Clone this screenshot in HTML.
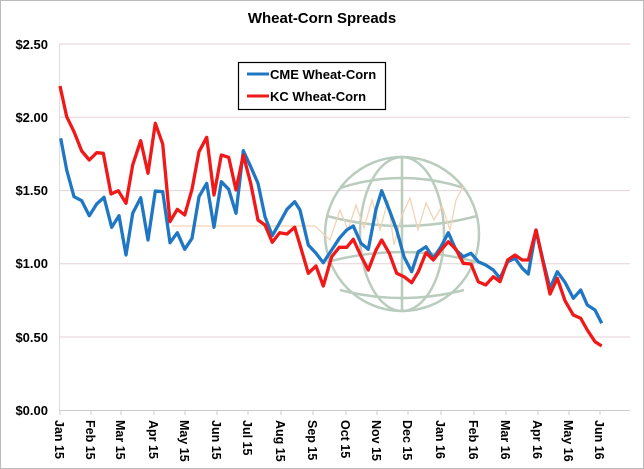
<!DOCTYPE html>
<html><head><style>
html,body{margin:0;padding:0;background:#fff;}
svg{display:block;font-family:"Liberation Sans",Arial,sans-serif;}
</style></head><body>
<svg width="644" height="469" viewBox="0 0 644 469" xmlns="http://www.w3.org/2000/svg">
<rect x="0.5" y="0.5" width="643" height="468" fill="#fff" stroke="#bbb"/>
<text x="322" y="23" text-anchor="middle" font-size="15" font-weight="bold" fill="#000">Wheat-Corn Spreads</text>
<g stroke="#e6d2d6" stroke-width="1">
<line x1="59" y1="44" x2="630" y2="44"/>
<line x1="59" y1="117.2" x2="630" y2="117.2"/>
<line x1="59" y1="190.6" x2="630" y2="190.6"/>
<line x1="59" y1="263.8" x2="630" y2="263.8"/>
<line x1="59" y1="337" x2="630" y2="337"/>
</g>
<line x1="59" y1="410.5" x2="630" y2="410.5" stroke="#ccc"/>
<line x1="59.5" y1="44" x2="59.5" y2="410" stroke="#ddd"/>
<g stroke="#ccc">
<line x1="60" y1="410" x2="60" y2="415"/><line x1="91" y1="410" x2="91" y2="415"/><line x1="121" y1="410" x2="121" y2="415"/><line x1="154" y1="410" x2="154" y2="415"/><line x1="185" y1="410" x2="185" y2="415"/><line x1="217" y1="410" x2="217" y2="415"/><line x1="248" y1="410" x2="248" y2="415"/><line x1="281" y1="410" x2="281" y2="415"/><line x1="313" y1="410" x2="313" y2="415"/><line x1="346" y1="410" x2="346" y2="415"/><line x1="377" y1="410" x2="377" y2="415"/><line x1="408" y1="410" x2="408" y2="415"/><line x1="441" y1="410" x2="441" y2="415"/><line x1="474" y1="410" x2="474" y2="415"/><line x1="506" y1="410" x2="506" y2="415"/><line x1="538" y1="410" x2="538" y2="415"/><line x1="569" y1="410" x2="569" y2="415"/><line x1="600" y1="410" x2="600" y2="415"/>
</g>
<g font-size="13" font-weight="bold" text-anchor="end" fill="#000">
<text x="48" y="49">$2.50</text><text x="48" y="122">$2.00</text><text x="48" y="195">$1.50</text><text x="48" y="268">$1.00</text><text x="48" y="342">$0.50</text><text x="48" y="415">$0.00</text>
</g>
<g font-size="12.5" font-weight="bold" fill="#000">
<text transform="translate(55,420) rotate(90)">Jan 15</text>
<text transform="translate(86,420) rotate(90)">Feb 15</text>
<text transform="translate(116,420) rotate(90)">Mar 15</text>
<text transform="translate(149,420) rotate(90)">Apr 15</text>
<text transform="translate(180,420) rotate(90)">May 15</text>
<text transform="translate(212,420) rotate(90)">Jun 15</text>
<text transform="translate(243,420) rotate(90)">Jul 15</text>
<text transform="translate(276,420) rotate(90)">Aug 15</text>
<text transform="translate(308,420) rotate(90)">Sep 15</text>
<text transform="translate(341,420) rotate(90)">Oct 15</text>
<text transform="translate(372,420) rotate(90)">Nov 15</text>
<text transform="translate(403,420) rotate(90)">Dec 15</text>
<text transform="translate(436,420) rotate(90)">Jan 16</text>
<text transform="translate(469,420) rotate(90)">Feb 16</text>
<text transform="translate(501,420) rotate(90)">Mar 16</text>
<text transform="translate(533,420) rotate(90)">Apr 16</text>
<text transform="translate(564,420) rotate(90)">May 16</text>
<text transform="translate(595,420) rotate(90)">Jun 16</text>
</g>
<!-- watermark -->
<g fill="none" stroke="#b9ccbe" stroke-width="2.5">
<circle cx="402" cy="234" r="77"/>
<ellipse cx="402" cy="234" rx="42" ry="77"/>
<line x1="402" y1="157" x2="402" y2="311"/>
<path d="M340 188 Q402 168 464 188"/>
<path d="M327 216 Q402 236 477 216"/>
<path d="M327 262 Q402 242 477 262"/>
<path d="M340 290 Q402 306 464 290"/>
</g>
<polyline fill="none" stroke="#f3d3b5" stroke-width="1.3" points="172,226 300,226 315,226 330,240 340,210 348,230 356,205 364,228 372,200 380,230 388,200 394,245 402,215 410,198 418,230 426,203 434,220 442,206 450,230 456,200 464,185"/>
<!-- series -->
<polyline fill="none" stroke="#1f77c4" stroke-width="3.3" stroke-linejoin="round" points="60.7,138.3 66.7,170 74,196.7 81.7,200.7 89.3,215.7 96.7,204 104,197.3 111.7,227.3 119,215.7 126,255 132.7,213.3 140.7,197.7 148,240 155.3,191 162.7,191.7 170,242.7 177.3,232.7 184.7,249.3 192,238.3 199,196.7 206.7,183.3 214,227.3 221.3,181.7 228.7,189.3 236,213.3 243.3,150.7 250.7,166.7 258,183.3 265,216.7 272.3,235.7 279.7,222.7 287,209.3 294.7,201.7 300,210 308.3,245 316,253.3 323.3,262.7 331.7,250 339.3,238.3 346.7,230 353.3,226 361,243.3 368.3,249.3 376,209.3 381.7,190.7 389.3,210 396.7,230 404,256.7 411.7,271.7 418.3,251.7 426,246.7 433.3,258.3 441,246.7 448.3,232.7 456,250 463.3,256.7 471,253.3 478.3,261.7 485.7,265 493.3,270 500,278.3 507.7,261.7 515,258.3 522.3,268.3 528.3,274 536,230 543.3,261.7 550,288.3 557.3,271.7 565,282.3 573.3,298.3 580.7,290 587.3,305 595,310 601.7,323.3"/>
<polyline fill="none" stroke="#f01818" stroke-width="3.3" stroke-linejoin="round" points="60,86 66.7,116.7 74,131.7 81.7,151 89.3,160 96.7,152.7 103.3,153.3 111,194 118.3,190.7 126,203.3 132.7,165 140.7,140.7 148,173.3 155.3,123.3 162.7,144 170,221.7 177.3,209.3 184.7,215 192,189.3 199,151.7 206.7,137.3 214,195 221.3,155 228.7,157.3 236,190 243.3,155 250.7,183.3 258,220 265,225 272.3,242.3 279.7,232.7 287,234 294.7,227.3 300,245 308.3,273.3 316,266 323.3,286 331.7,256.7 339.3,247.3 346.7,247.3 353.3,239.3 361,256 368.3,270 376,250 381.7,240 389.3,253.3 396.7,273.3 404,276.7 411.7,282.7 418.3,271.7 426,252.7 433.3,260 441,250 448.3,241.7 456,249.3 463.3,263.3 471,264 478.3,281.7 485.7,285 493.3,276.7 500,281.7 507.7,260 515,255 522.3,260 528.3,260 536,230 543.3,263.3 550,294 557.3,278.3 565,300.7 573.3,315 580.7,318.3 587.3,330 595,341.7 601.7,346"/>
<!-- legend -->
<rect x="238.5" y="62.5" width="147" height="47" fill="#fff" stroke="#000" stroke-width="1.2"/>
<line x1="247" y1="74" x2="269" y2="74" stroke="#1f77c4" stroke-width="3"/>
<line x1="247" y1="96" x2="269" y2="96" stroke="#f01818" stroke-width="3"/>
<text x="270" y="79" font-size="13" font-weight="bold">CME Wheat-Corn</text>
<text x="270" y="101" font-size="13" font-weight="bold">KC Wheat-Corn</text>
</svg>
</body></html>
